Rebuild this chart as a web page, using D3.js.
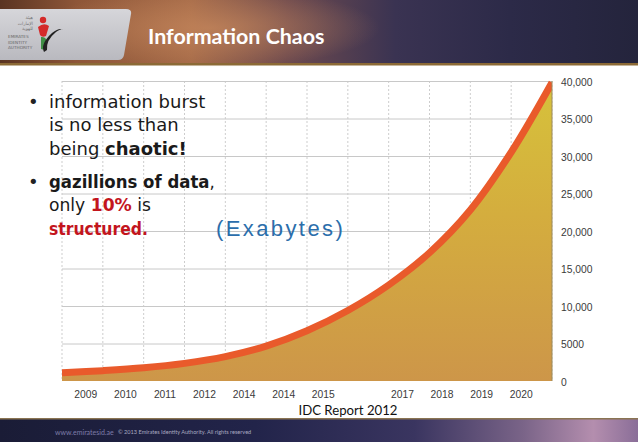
<!DOCTYPE html>
<html>
<head>
<meta charset="utf-8">
<script src="https://cdn.jsdelivr.net/npm/d3@7"></script>
<style>
  html, body { margin: 0; padding: 0; background: #fff; }
  svg { display: block; }
</style>
</head>
<body>
<svg id="chart" width="638" height="442"></svg>
<script>
// ---- data ----
const xLabels = ["2009", "2010", "2011", "2012", "2014", "2014", "2015", "", "2017", "2018", "2019", "2020"];
const steps = [0, 1, 2, 3, 4, 5, 6, 7, 8, 9, 10, 11, 12];
const exabytes = [1100, 1380, 1760, 2350, 3250, 4650, 6700, 9400, 12800, 17100, 22800, 30500, 39800];
const yTicks = [0, 5000, 10000, 15000, 20000, 25000, 30000, 35000, 40000];
const yTickLabels = ["0", "5000", "10,000", "15,000", "20,000", "25,000", "30,000", "35,000", "40,000"];
const title = "Information Chaos";
const unitLabel = "(Exabytes)";
const sourceLabel = "IDC Report 2012";

const svg = d3.select("#chart");
const W = 638, H = 442;
const defs = svg.append("defs");

// ---- header background ----
const hg = defs.append("linearGradient").attr("id", "hdr").attr("x1", 0).attr("x2", 1).attr("y1", 0).attr("y2", 0);
[["0%", "#5a3422"], ["12%", "#8e5638"], ["30%", "#a56a48"], ["45%", "#6e4a4e"], ["62%", "#3a3352"], ["80%", "#2c2a48"], ["100%", "#24243c"]]
  .forEach(([o, c]) => hg.append("stop").attr("offset", o).attr("stop-color", c));
svg.append("rect").attr("x", 0).attr("y", 0).attr("width", W).attr("height", 65).attr("fill", "url(#hdr)");
const glow = defs.append("radialGradient").attr("id", "glow").attr("cx", 0.5).attr("cy", 0.5).attr("r", 0.5);
glow.append("stop").attr("offset", "0%").attr("stop-color", "#c98a5e").attr("stop-opacity", 0.7);
glow.append("stop").attr("offset", "100%").attr("stop-color", "#c98a5e").attr("stop-opacity", 0);
svg.append("ellipse").attr("cx", 210).attr("cy", 28).attr("rx", 170).attr("ry", 40).attr("fill", "url(#glow)");
svg.append("rect").attr("x", 0).attr("y", 63).attr("width", W).attr("height", 2.5).attr("fill", "#8c6a36");

// logo panel
const pg = defs.append("linearGradient").attr("id", "panel").attr("x1", 0).attr("x2", 0).attr("y1", 0).attr("y2", 1);
pg.append("stop").attr("offset", "0%").attr("stop-color", "#d6d6da");
pg.append("stop").attr("offset", "100%").attr("stop-color", "#b9b9bf");
svg.append("path")
  .attr("d", "M-10,9 L126,9 Q132,9 131,14 L124,55 Q123,60 118,60 L-10,60 Z")
  .attr("fill", "url(#panel)");
const logo = svg.append("g");
["هيئة", "الإمارات", "للهوية"].forEach((t, i) => {
  logo.append("text").attr("x", 33).attr("y", 19 + i * 5.5).attr("text-anchor", "end")
    .attr("font-family", "DejaVu Sans").attr("font-size", 4.5).attr("fill", "#777").text(t);
});
["EMIRATES", "IDENTITY", "AUTHORITY"].forEach((t, i) => {
  logo.append("text").attr("x", 8).attr("y", 38 + i * 5.5)
    .attr("font-family", "DejaVu Sans").attr("font-size", 4.2).attr("fill", "#666").text(t);
});
logo.append("circle").attr("cx", 43).attr("cy", 20).attr("r", 3.2).attr("fill", "#d42a2a");
logo.append("path").attr("d", "M38,27 Q44,22 49,26 L46,36 Q42,38 40,35 Z").attr("fill", "#d42a2a");
logo.append("path").attr("d", "M41,37 Q47,36 47,44 Q45,51 41,49 Z").attr("fill", "#3f8f45");
logo.append("path").attr("d", "M44,52 Q40,44 52,33 Q60,27 63,30 Q62,28 56,32 Q46,40 47,50 Z").attr("fill", "#222");

svg.append("text").attr("id", "title").attr("x", 148).attr("y", 44)
  .attr("font-family", "Lato, 'Open Sans', sans-serif").attr("font-weight", 700)
  .attr("font-size", 21.4).attr("fill", "#fff").text(title);

// ---- footer ----
const fg = defs.append("linearGradient").attr("id", "ftr").attr("x1", 0).attr("x2", 1).attr("y1", 0).attr("y2", 0);
[["0%", "#1a1c36"], ["40%", "#22244a"], ["65%", "#3a3560"], ["82%", "#7a6488"], ["93%", "#b48eae"], ["100%", "#8a6e98"]]
  .forEach(([o, c]) => fg.append("stop").attr("offset", o).attr("stop-color", c));
svg.append("rect").attr("x", 0).attr("y", 419).attr("width", W).attr("height", H - 419).attr("fill", "url(#ftr)");
svg.append("rect").attr("x", 0).attr("y", 418).attr("width", W).attr("height", 1.5).attr("fill", "#8a7452");
svg.append("text").attr("x", 55).attr("y", 434.5).attr("font-family", "Lato, sans-serif").attr("font-size", 7)
  .attr("fill", "#7d7ca8").text("www.emiratesid.ae");
svg.append("text").attr("x", 118).attr("y", 434).attr("font-family", "Lato, sans-serif").attr("font-size", 5.6)
  .attr("fill", "#a9a9c0").text("© 2013 Emirates Identity Authority. All rights reserved");

// ---- chart ----
const x = d3.scaleLinear().domain([0, 12]).range([62, 552]);
const y = d3.scaleLinear().domain([0, 40000]).range([381, 81]);
const xBand = d3.scaleBand().domain(d3.range(xLabels.length)).range([66, 541]);

const grid = svg.append("g");
grid.selectAll("line.v").data(steps).join("line")
  .attr("x1", d => x(d)).attr("x2", d => x(d)).attr("y1", y(40000)).attr("y2", y(0))
  .attr("stroke", "#c0c0c0").attr("stroke-width", 0.8).attr("stroke-dasharray", "2,2");
grid.selectAll("line.h").data(yTicks.filter(d => d > 0)).join("line")
  .attr("x1", x(0)).attr("x2", x(12)).attr("y1", d => y(d) + 0.5).attr("y2", d => y(d) + 0.5)
  .attr("stroke", "#c8c8c8").attr("stroke-width", 1);

const ag = defs.append("linearGradient").attr("id", "areaFill").attr("gradientUnits", "userSpaceOnUse")
  .attr("x1", 0).attr("x2", 0).attr("y1", y(40000)).attr("y2", y(0));
[["0%", "#d6c23b"], ["45%", "#d4ad3e"], ["100%", "#cd9649"]]
  .forEach(([o, c]) => ag.append("stop").attr("offset", o).attr("stop-color", c));

defs.append("clipPath").attr("id", "plotClip").append("rect")
  .attr("x", x(0)).attr("y", 60).attr("width", x(12) - x(0)).attr("height", y(0) - 60);

const pts = steps.map((s, i) => ({ s, v: exabytes[i] }));
const curve = d3.curveCatmullRom.alpha(0.5);
const area = d3.area().x(d => x(d.s)).y0(y(0)).y1(d => y(d.v)).curve(curve);
const line = d3.line().x(d => x(d.s)).y(d => y(d.v)).curve(curve);

const plot = svg.append("g").attr("clip-path", "url(#plotClip)");
plot.append("path").datum(pts).attr("d", area).attr("fill", "url(#areaFill)");
plot.append("path").datum(pts).attr("d", line).attr("fill", "none")
  .attr("stroke", "#e95a2b").attr("stroke-width", 7);
svg.append("line").attr("x1", x(12)).attr("x2", x(12)).attr("y1", y(40000)).attr("y2", y(0))
  .attr("stroke", "#9c8a5c").attr("stroke-width", 1);

// y axis (right)
const yAxis = svg.append("g").attr("transform", `translate(${x(12)},0)`)
  .call(d3.axisRight(y).tickValues(yTicks).tickSize(0).tickPadding(9)
    .tickFormat((d, i) => yTickLabels[i]));
yAxis.select(".domain").remove();
yAxis.selectAll("text").attr("font-family", "'Liberation Sans', Arial, sans-serif").attr("font-size", 10.3)
  .attr("fill", "#3a3a3a").attr("dy", "0.4em");

// x axis labels
const xAxis = svg.append("g").attr("transform", `translate(0,${y(0)})`)
  .call(d3.axisBottom(xBand).tickSize(0).tickPadding(10).tickFormat(i => xLabels[i]));
xAxis.select(".domain").remove();
xAxis.selectAll("text").attr("font-family", "'Liberation Sans', Arial, sans-serif").attr("font-size", 10.3)
  .attr("fill", "#3a3a3a");

// unit label
svg.append("text").attr("x", 216).attr("y", 236).attr("font-family", "'Liberation Sans', Arial, sans-serif")
  .attr("font-size", 22).attr("letter-spacing", 2.4).attr("fill", "#2b6eab").text(unitLabel);

// source label
svg.append("text").attr("x", 348).attr("y", 414.5).attr("text-anchor", "middle")
  .attr("font-family", "Lato, 'Open Sans', sans-serif").attr("font-size", 13.2).attr("fill", "#111").text(sourceLabel);

// ---- bullets ----
const bf = "'DejaVu Sans', sans-serif";
const bullets = [
  { y: 108, parts: [[{ t: "information burst" }], [{ t: "is no less than" }], [{ t: "being " }, { t: "chaotic!", b: true }]] },
  { y: 188, parts: [[{ t: "gazillions of data", b: true }, { t: "," }], [{ t: "only " }, { t: "10%", b: true, r: true }, { t: " is" }], [{ t: "structured.", b: true, r: true }]] }
];
const lineWidths = [[157, 131, 139], [166, 102, 99]];
bullets.forEach((bl, bi) => {
  svg.append("text").attr("x", 28).attr("y", bl.y).attr("font-family", bf).attr("font-size", 18).attr("fill", "#222").text("•");
  bl.parts.forEach((ln, li) => {
    const ty = bl.y + li * 23.3;
    const g = svg.append("g");
    const t = g.append("text").attr("x", 49).attr("y", ty)
      .attr("font-family", bf).attr("font-size", 18).attr("fill", "#1a1a1a");
    ln.forEach(p => {
      t.append("tspan").attr("font-weight", p.b ? 700 : 400).attr("fill", p.r ? "#c3151d" : "#1a1a1a").text(p.t);
    });
    const target = lineWidths[bi][li];
    const w = t.node().getComputedTextLength();
    if (w > target * 1.02) {
      const k = target / w;
      g.attr("transform", `translate(49,0) scale(${k},1) translate(-49,0)`);
    }
  });
});
</script>
</body>
</html>
